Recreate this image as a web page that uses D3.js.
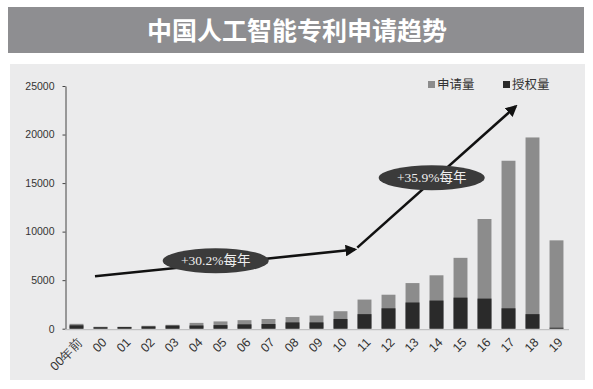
<!DOCTYPE html>
<html lang="zh">
<head>
<meta charset="UTF-8">
<title>中国人工智能专利申请趋势</title>
<script src="https://cdnjs.cloudflare.com/ajax/libs/d3/7.8.5/d3.min.js"></script>
<style>
  body { margin: 0; background: #fff; }
</style>
</head>
<body>
<svg width="593" height="389"></svg>
<script>
    const categories = ["00年前", "00", "01", "02", "03", "04", "05", "06", "07", "08", "09",
        "10", "11", "12", "13", "14", "15", "16", "17", "18", "19"];
    const applications = [500, 200, 200, 300, 400, 600, 750, 880, 1000, 1200, 1350,
        1800, 3000, 3500, 4700, 5500, 7300, 11300, 17300, 19700, 9100];
    const grants = [350, 150, 170, 230, 320, 330, 370, 450, 480, 650, 650,
        1000, 1500, 2100, 2700, 2900, 3200, 3100, 2100, 1500, 100];
    const yTicks = [0, 5000, 10000, 15000, 20000, 25000];
    const seriesNames = ["申请量", "授权量"];

    // trend arrows: [category position, value]
    const trend1 = [[0.77, 5400], [11.6, 8150]];
    const trend2 = [[11.7, 8350], [18.3, 22900]];
    const badges = [
        {pos: 5.8, value: 7000, text: "+30.2%每年"},
        {pos: 14.8, value: 15550, text: "+35.9%每年"}
    ];

    const GRAY = '#8c8c8c';
    const DARK = '#2a2a2a';

    const svg = d3.select('svg');

    // title bar
    svg.append('rect')
        .attr('x', 8).attr('y', 7)
        .attr('width', 576).attr('height', 46)
        .attr('fill', '#8e8e91');
    svg.append('text')
        .attr('x', 297).attr('y', 31)
        .attr('dy', '0.36em')
        .attr('text-anchor', 'middle')
        .attr('font-family', '"Noto Sans CJK SC", sans-serif')
        .attr('font-weight', 'bold')
        .attr('font-size', '25px')
        .attr('fill', '#fff')
        .text('中国人工智能专利申请趋势');

    // chart panel
    svg.append('rect')
        .attr('x', 10).attr('y', 64)
        .attr('width', 575).attr('height', 316)
        .attr('fill', '#ebebec');

    const x = d3.scaleBand()
        .domain(categories)
        .range([64.5, 568.5])
        .paddingInner(0.42)
        .paddingOuter(0.21);
    const y = d3.scaleLinear()
        .domain([0, 25000])
        .range([328.7, 86]);

    const xPos = p => x(categories[0]) + x.bandwidth() / 2 + p * x.step();

    // y axis
    const yAxis = svg.append('g')
        .attr('transform', 'translate(65.5,0)')
        .call(d3.axisLeft(y).tickValues(yTicks).tickFormat(d3.format('d'))
            .tickSizeInner(3).tickSizeOuter(0).tickPadding(8));
    yAxis.select('.domain').attr('stroke', '#444');
    yAxis.selectAll('.tick line').attr('stroke', '#444');
    yAxis.selectAll('text')
        .attr('font-family', '"Liberation Sans", Arial, sans-serif')
        .attr('font-size', '10.5px')
        .attr('fill', '#333');

    // bars: application behind, grants in front
    svg.append('g').selectAll('rect')
        .data(applications)
        .join('rect')
        .attr('x', (d, i) => x(categories[i]))
        .attr('y', d => y(d))
        .attr('width', x.bandwidth())
        .attr('height', d => y(0) - y(d))
        .attr('fill', GRAY);
    svg.append('g').selectAll('rect')
        .data(grants)
        .join('rect')
        .attr('x', (d, i) => x(categories[i]))
        .attr('y', d => y(d))
        .attr('width', x.bandwidth())
        .attr('height', d => y(0) - y(d))
        .attr('fill', DARK);

    // x axis
    const xAxis = svg.append('g')
        .attr('transform', `translate(0,${y(0) + 0.5})`)
        .call(d3.axisBottom(x).tickSize(0).tickSizeOuter(0).tickPadding(0));
    xAxis.select('.domain').attr('stroke', '#b8b8b8');
    xAxis.selectAll('text')
        .attr('font-family', '"Liberation Sans", Arial, sans-serif')
        .attr('font-size', '12.5px')
        .attr('fill', '#333')
        .attr('text-anchor', 'end')
        .attr('dy', 0)
        .attr('transform', 'translate(7,14) rotate(-45)');

    // trend arrows
    svg.append('defs').append('marker')
        .attr('id', 'head')
        .attr('viewBox', '0 0 10 10')
        .attr('refX', 8).attr('refY', 5)
        .attr('markerWidth', 4.5).attr('markerHeight', 4.5)
        .attr('orient', 'auto')
        .append('path')
        .attr('d', 'M0,0 L10,5 L0,10 z')
        .attr('fill', '#111');

    const line = d3.line().x(d => xPos(d[0])).y(d => y(d[1]));
    [trend1, trend2].forEach(t => {
        svg.append('path')
            .attr('d', line(t))
            .attr('stroke', '#111')
            .attr('stroke-width', 2.6)
            .attr('fill', 'none')
            .attr('marker-end', 'url(#head)');
    });

    badges.forEach(b => {
        svg.append('ellipse')
            .attr('cx', xPos(b.pos))
            .attr('cy', y(b.value))
            .attr('rx', 53).attr('ry', 12.5)
            .attr('fill', '#3b3b3b');
        svg.append('text')
            .attr('x', xPos(b.pos))
            .attr('y', y(b.value))
            .attr('dy', '0.35em')
            .attr('text-anchor', 'middle')
            .attr('font-family', '"Liberation Serif", "Noto Sans CJK SC", serif')
            .attr('font-size', '13.5px')
            .attr('fill', '#eee')
            .text(b.text);
    });

    // legend
    const legend = svg.append('g');
    [[428, GRAY], [503, DARK]].forEach(([lx, c], i) => {
        legend.append('rect')
            .attr('x', lx).attr('y', 81)
            .attr('width', 7).attr('height', 7)
            .attr('fill', c);
        legend.append('text')
            .attr('x', lx + 9).attr('y', 85)
            .attr('dy', '0.35em')
            .attr('font-family', '"Noto Sans CJK SC", sans-serif')
            .attr('font-size', '12.5px')
            .attr('fill', '#333')
            .text(seriesNames[i]);
    });
</script>
</body>
</html>
